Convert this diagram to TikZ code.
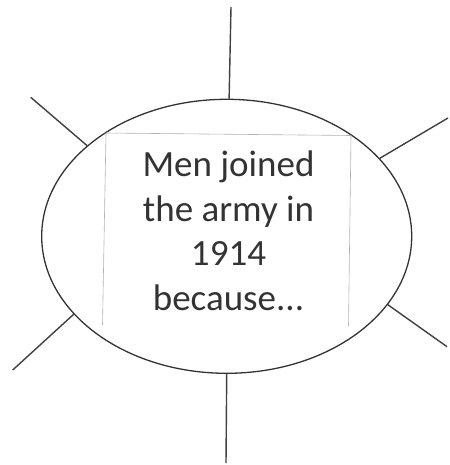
\documentclass[tikz,border=0pt]{standalone}
\usepackage{fontspec}
\setmainfont{Carlito}
\usetikzlibrary{shapes.geometric,positioning}
\tikzset{every picture/.style={line width=1.3pt},
  spoke/.style={draw=black!75, line width=1.4pt},
  frame/.style={draw=black!30, line width=0.6pt}}

\begin{document}
\begin{tikzpicture}[x=1pt,y=-1pt]
    \useasboundingbox (0,0) rectangle (449,465);
    \node[ellipse, draw=black!80, minimum width=370pt, minimum height=274pt, inner sep=0pt] (bubble) at (226.7,236.3) {};
    % text box
    \coordinate (box tl) at (106,133);
    \coordinate (box tr) at (351,135.5);
    \coordinate (box bl) at (102.5,325);
    \coordinate (box br) at (348.5,326);
    \draw[frame] (box bl) -- (box tl) -- (box tr) -- (box br);
    \node[text=black!80, align=center, inner sep=0pt,
          font=\fontsize{37}{44.5}\selectfont] (caption) at (228.5,231)
          {Men joined\\the army in\\1914\\because...};
    % spokes
    \coordinate (top end) at (231,7);
    \coordinate (upleft end) at (30.7,97.3);
    \coordinate (upright end) at (448,118);
    \coordinate (lowleft end) at (12.7,370);
    \coordinate (lowright end) at (447,346.7);
    \coordinate (bottom end) at (226,463);
    \draw[spoke] (bubble.89) -- (top end);
    \draw[spoke] (bubble.147) -- (upleft end);
    \draw[spoke] (bubble.27) -- (upright end);
    \draw[spoke] (bubble.207) -- (lowleft end);
    \draw[spoke] (bubble.337) -- (lowright end);
    \draw[spoke] (bubble.270) -- (bottom end);
\end{tikzpicture}
\end{document}
